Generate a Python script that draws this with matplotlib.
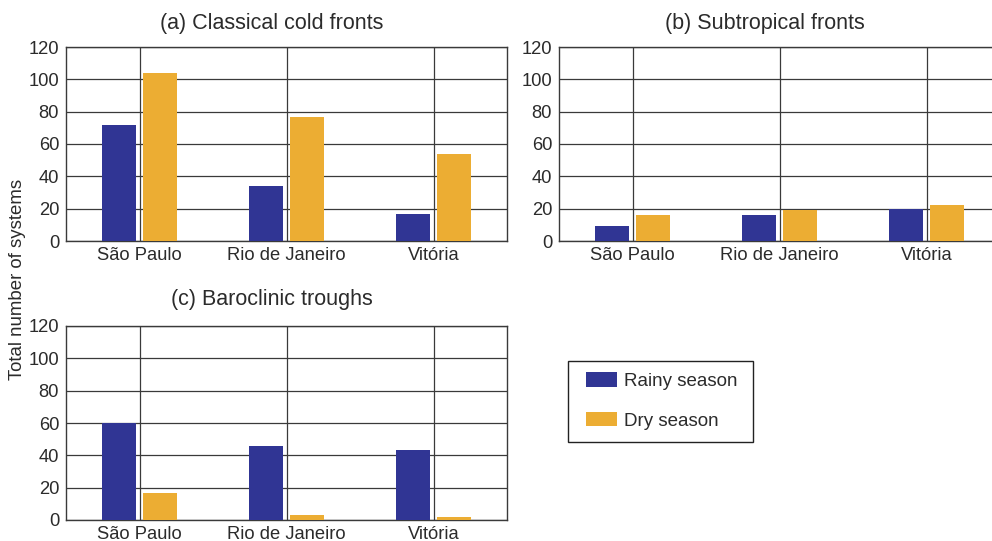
import matplotlib
matplotlib.use("Agg")
import matplotlib.pyplot as plt
from matplotlib.patches import Patch, Rectangle
import numpy as np

plt.rcParams['font.family'] = ['Liberation Sans', 'DejaVu Sans']

cities = ["São Paulo", "Rio de Janeiro", "Vitória"]
titles = ["(a) Classical cold fronts", "(b) Subtropical fronts", "(c) Baroclinic troughs"]

cold_rainy = [72, 34, 17]
cold_dry = [104, 77, 54]
subtrop_rainy = [9, 16, 20]
subtrop_dry = [16, 19, 22]
baro_rainy = [60, 46, 43]
baro_dry = [17, 3, 2]

yticks = [0, 20, 40, 60, 80, 100, 120]

rainy_col = "#303594"
dry_col = "#ecad33"
ink = "#2b2b2b"
grid_col = "#3a3a3a"

W, H = 992, 541
fig = plt.figure(figsize=(W / 100, H / 100), dpi=100)


def px_box(x0, y0, x1, y1):
    return [x0 / W, 1 - y1 / H, (x1 - x0) / W, (y1 - y0) / H]


panels = [
    (px_box(66, 47, 507, 241), cold_rainy, cold_dry, (272, 24)),
    (px_box(559, 47, 1000, 241), subtrop_rainy, subtrop_dry, (765, 24)),
    (px_box(66, 326, 507, 520), baro_rainy, baro_dry, (272, 299)),
]

x = np.arange(len(cities))
w = 0.232
off = 0.14

for (pos, rainy, dry, tpos), title in zip(panels, titles):
    ax = fig.add_axes(pos)
    ax.set_axisbelow(True)
    ax.bar(x - off, rainy, width=w, color=rainy_col, zorder=3)
    ax.bar(x + off, dry, width=w, color=dry_col, zorder=3)
    ax.set_xlim(-0.5, 2.5)
    ax.set_ylim(0, 120)
    ax.set_yticks(yticks)
    ax.set_xticks(x)
    ax.set_xticklabels(cities)
    ax.grid(True, color=grid_col, linewidth=0.9)
    ax.tick_params(length=0, labelsize=13.2, colors=ink)
    ax.tick_params(axis='y', pad=5)
    ax.tick_params(axis='x', pad=4)
    for s in ax.spines.values():
        s.set_color(grid_col)
        s.set_linewidth(1.0)
    fig.text(tpos[0] / W, 1 - tpos[1] / H, title, ha='center', va='center',
             fontsize=15.5, color=ink)

fig.text(18 / W, 1 - 279 / H, "Total number of systems", rotation=90,
         ha='center', va='center', fontsize=13.4, color=ink)

# legend box drawn separately so its size matches the original
fig.patches.append(Rectangle((568 / W, 1 - 442 / H), (753 - 568) / W, (442 - 361) / H,
                             transform=fig.transFigure, facecolor='white',
                             edgecolor="#222222", linewidth=1.0, zorder=1))
handles = [Patch(facecolor=rainy_col, edgecolor='none', label="Rainy season"),
           Patch(facecolor=dry_col, edgecolor='none', label="Dry season")]
leg = fig.legend(handles=handles, loc='upper left',
                 bbox_to_anchor=(586 / W, 1 - 372 / H), bbox_transform=fig.transFigure,
                 fontsize=13.5, frameon=False, borderpad=0,
                 handlelength=1.65, handleheight=0.85, handletextpad=0.38,
                 labelspacing=1.15, borderaxespad=0)
for t in leg.get_texts():
    t.set_color(ink)

fig.savefig("out.png", dpi=100)
